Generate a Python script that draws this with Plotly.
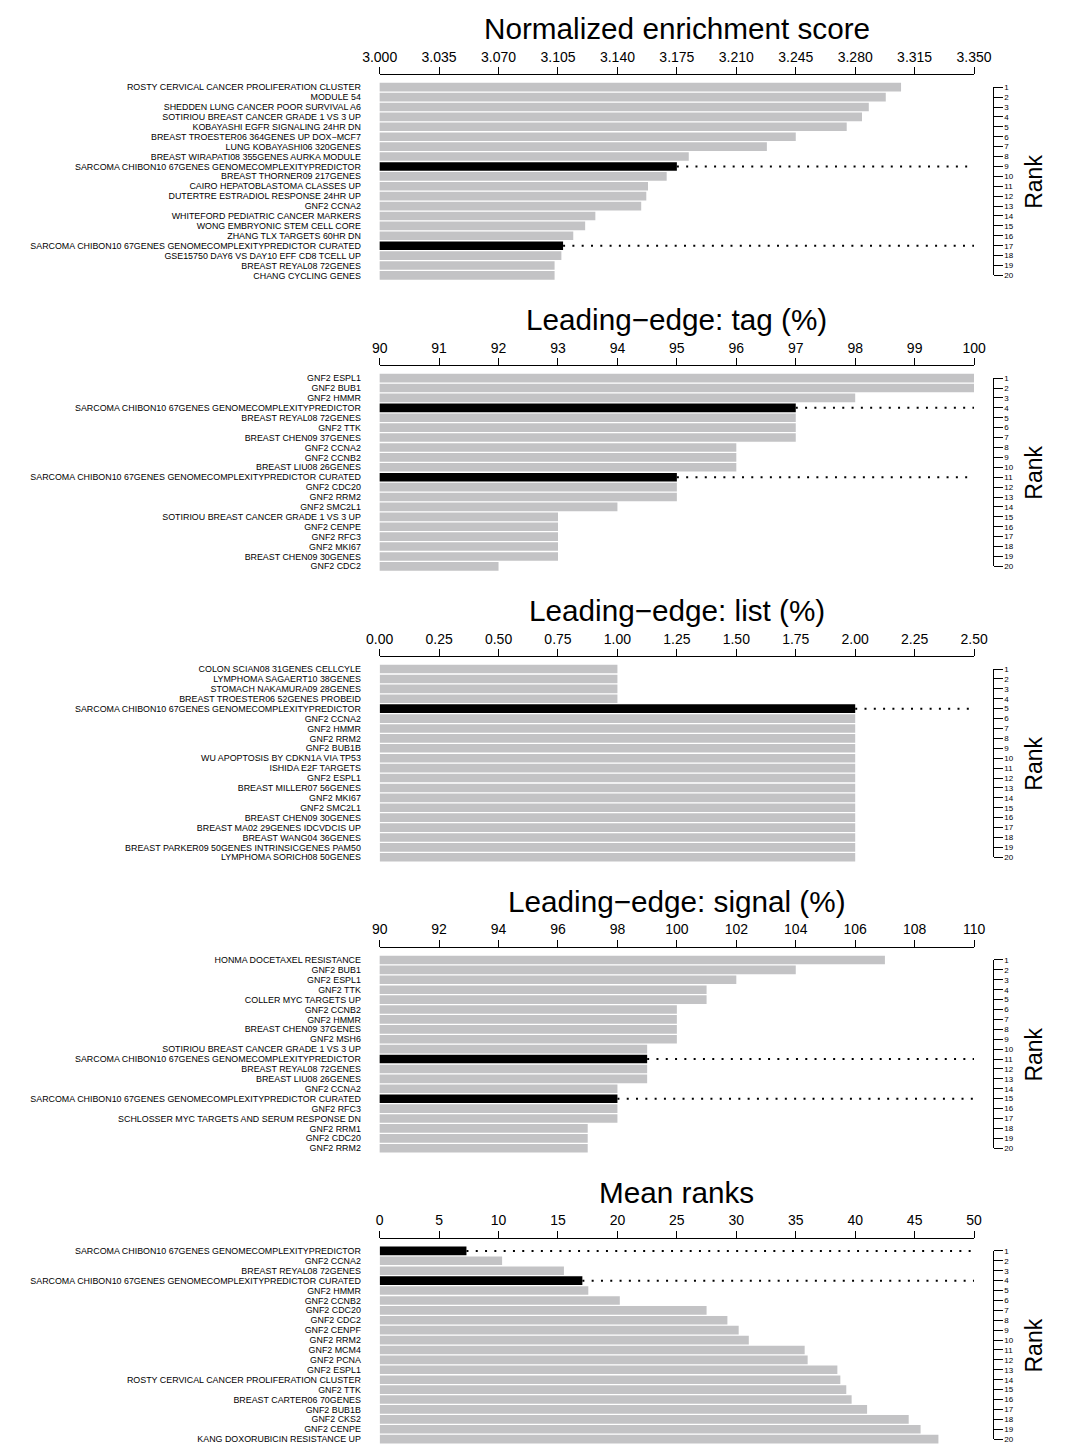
import plotly.graph_objects as go

W, H = 1066, 1449

SARC = "SARCOMA CHIBON10 67GENES GENOMECOMPLEXITYPREDICTOR"
SARC_C = "SARCOMA CHIBON10 67GENES GENOMECOMPLEXITYPREDICTOR CURATED"

ranks = list(range(1, 21))

panel_titles = ["Normalized enrichment score", "Leading\u2212edge: tag (%)",
                "Leading\u2212edge: list (%)", "Leading\u2212edge: signal (%)", "Mean ranks"]

nes_names = ["ROSTY CERVICAL CANCER PROLIFERATION CLUSTER", "MODULE 54",
             "SHEDDEN LUNG CANCER POOR SURVIVAL A6", "SOTIRIOU BREAST CANCER GRADE 1 VS 3 UP",
             "KOBAYASHI EGFR SIGNALING 24HR DN", "BREAST TROESTER06 364GENES UP DOX\u2212MCF7",
             "LUNG KOBAYASHI06 320GENES", "BREAST WIRAPATI08 355GENES AURKA MODULE",
             SARC, "BREAST THORNER09 217GENES", "CAIRO HEPATOBLASTOMA CLASSES UP",
             "DUTERTRE ESTRADIOL RESPONSE 24HR UP", "GNF2 CCNA2",
             "WHITEFORD PEDIATRIC CANCER MARKERS", "WONG EMBRYONIC STEM CELL CORE",
             "ZHANG TLX TARGETS 60HR DN", SARC_C, "GSE15750 DAY6 VS DAY10 EFF CD8 TCELL UP",
             "BREAST REYAL08 72GENES", "CHANG CYCLING GENES"]
nes_values = [3.307, 3.298, 3.288, 3.284, 3.275, 3.245, 3.228, 3.182, 3.175, 3.169,
              3.158, 3.157, 3.154, 3.127, 3.121, 3.114, 3.108, 3.107, 3.103, 3.103]
nes_ticks = ["3.000", "3.035", "3.070", "3.105", "3.140", "3.175", "3.210", "3.245",
             "3.280", "3.315", "3.350"]

tag_names = ["GNF2 ESPL1", "GNF2 BUB1", "GNF2 HMMR", SARC, "BREAST REYAL08 72GENES",
             "GNF2 TTK", "BREAST CHEN09 37GENES", "GNF2 CCNA2", "GNF2 CCNB2",
             "BREAST LIU08 26GENES", SARC_C, "GNF2 CDC20", "GNF2 RRM2", "GNF2 SMC2L1",
             "SOTIRIOU BREAST CANCER GRADE 1 VS 3 UP", "GNF2 CENPE", "GNF2 RFC3",
             "GNF2 MKI67", "BREAST CHEN09 30GENES", "GNF2 CDC2"]
tag_values = [100, 100, 98, 97, 97, 97, 97, 96, 96, 96, 95, 95, 95, 94, 93, 93, 93, 93, 93, 92]
tag_ticks = ["90", "91", "92", "93", "94", "95", "96", "97", "98", "99", "100"]

list_names = ["COLON SCIAN08 31GENES CELLCYLE", "LYMPHOMA SAGAERT10 38GENES",
              "STOMACH NAKAMURA09 28GENES", "BREAST TROESTER06 52GENES PROBEID", SARC,
              "GNF2 CCNA2", "GNF2 HMMR", "GNF2 RRM2", "GNF2 BUB1B",
              "WU APOPTOSIS BY CDKN1A VIA TP53", "ISHIDA E2F TARGETS", "GNF2 ESPL1",
              "BREAST MILLER07 56GENES", "GNF2 MKI67", "GNF2 SMC2L1", "BREAST CHEN09 30GENES",
              "BREAST MA02 29GENES IDCVDCIS UP", "BREAST WANG04 36GENES",
              "BREAST PARKER09 50GENES INTRINSICGENES PAM50", "LYMPHOMA SORICH08 50GENES"]
list_values = [1.0, 1.0, 1.0, 1.0, 2.0, 2.0, 2.0, 2.0, 2.0, 2.0,
               2.0, 2.0, 2.0, 2.0, 2.0, 2.0, 2.0, 2.0, 2.0, 2.0]
list_ticks = ["0.00", "0.25", "0.50", "0.75", "1.00", "1.25", "1.50", "1.75", "2.00",
              "2.25", "2.50"]

signal_names = ["HONMA DOCETAXEL RESISTANCE", "GNF2 BUB1", "GNF2 ESPL1", "GNF2 TTK",
                "COLLER MYC TARGETS UP", "GNF2 CCNB2", "GNF2 HMMR", "BREAST CHEN09 37GENES",
                "GNF2 MSH6", "SOTIRIOU BREAST CANCER GRADE 1 VS 3 UP", SARC,
                "BREAST REYAL08 72GENES", "BREAST LIU08 26GENES", "GNF2 CCNA2", SARC_C,
                "GNF2 RFC3", "SCHLOSSER MYC TARGETS AND SERUM RESPONSE DN", "GNF2 RRM1",
                "GNF2 CDC20", "GNF2 RRM2"]
signal_values = [107, 104, 102, 101, 101, 100, 100, 100, 100, 99,
                 99, 99, 99, 98, 98, 98, 98, 97, 97, 97]
signal_ticks = ["90", "92", "94", "96", "98", "100", "102", "104", "106", "108", "110"]

mean_names = [SARC, "GNF2 CCNA2", "BREAST REYAL08 72GENES", SARC_C, "GNF2 HMMR",
              "GNF2 CCNB2", "GNF2 CDC20", "GNF2 CDC2", "GNF2 CENPF", "GNF2 RRM2",
              "GNF2 MCM4", "GNF2 PCNA", "GNF2 ESPL1", "ROSTY CERVICAL CANCER PROLIFERATION CLUSTER",
              "GNF2 TTK", "BREAST CARTER06 70GENES", "GNF2 BUB1B", "GNF2 CKS2", "GNF2 CENPE",
              "KANG DOXORUBICIN RESISTANCE UP"]
mean_values = [7.3, 10.3, 15.5, 17.05, 17.55, 20.2, 27.5, 29.25, 30.2, 31.05,
               35.75, 36.0, 38.5, 38.75, 39.25, 39.7, 41.0, 44.5, 45.5, 47.0]
mean_ticks = ["0", "5", "10", "15", "20", "25", "30", "35", "40", "45", "50"]

panels = [
    (nes_names, nes_values, nes_ticks),
    (tag_names, tag_values, tag_ticks),
    (list_names, list_values, list_ticks),
    (signal_names, signal_values, signal_ticks),
    (mean_names, mean_values, mean_ticks),
]

# ---- layout / style constants ----
FONT = "Liberation Sans, Arial, Helvetica, sans-serif"
GREY = "#c3c3c5"
X0, X1 = 374.3, 989.5
AXIS_Y = [71.7 + 292.75 * i for i in range(5)]
ROW0 = 12.0
ROW_H = 9.97
RANK_X = 1009.3

fig = go.Figure()
layout = dict(
    width=W, height=H, autosize=False,
    margin=dict(l=0, r=0, t=0, b=0),
    paper_bgcolor="white", plot_bgcolor="rgba(0,0,0,0)",
    showlegend=False, font=dict(family=FONT, color="black"),
    annotations=[],
)


def py(px):
    return min(1.0, max(0.0, 1 - px / H))


for i, (names, values, ticks) in enumerate(panels):
    xa = "x" if i == 0 else f"x{i+1}"
    ya = "y" if i == 0 else f"y{i+1}"
    yr = f"y{i+6}"
    tickvals = [float(t) for t in ticks]
    lo, hi = tickvals[0], tickvals[-1]
    colors = ["black" if n.startswith("SARCOMA CHIBON10") else GREY for n in names]

    fig.add_trace(go.Bar(x=values, y=ranks, orientation="h", width=0.87,
                         marker=dict(color=colors, line=dict(width=0)),
                         xaxis=xa, yaxis=ya, hoverinfo="skip"))
    for n, v, r in zip(names, values, ranks):
        if n.startswith("SARCOMA CHIBON10"):
            fig.add_trace(go.Scatter(x=[v, hi], y=[r, r], mode="lines",
                                     line=dict(color="black", width=2, dash="2px,7.3px"),
                                     xaxis=xa, yaxis=ya, hoverinfo="skip"))
    fig.add_trace(go.Scatter(x=[lo] * len(ranks), y=ranks, mode="markers",
                             marker=dict(opacity=0), xaxis=xa, yaxis=yr, hoverinfo="skip"))

    top = AXIS_Y[i]
    r_top = 1 - ROW0 / ROW_H
    bottom_px = min(top + (20.7 - r_top) * ROW_H, H)
    r_bot = r_top + (bottom_px - top) / ROW_H
    rank1 = top + ROW0
    rank20 = rank1 + 19 * ROW_H

    layout["xaxis" if i == 0 else f"xaxis{i+1}"] = dict(
        domain=[X0 / W, X1 / W], anchor=ya, side="top", range=[lo, hi],
        tickvals=tickvals, ticktext=ticks, ticks="outside", ticklen=7, tickwidth=1,
        tickcolor="black", showline=True, linecolor="black", linewidth=1,
        showgrid=False, zeroline=False, tickfont=dict(size=14, family=FONT),
    )
    layout["yaxis" if i == 0 else f"yaxis{i+1}"] = dict(
        domain=[py(bottom_px), py(top)], anchor=xa, range=[r_bot, r_top],
        tickvals=ranks, ticktext=names, ticks="outside", ticklen=16,
        tickcolor="rgba(0,0,0,0)", showline=False, showgrid=False, zeroline=False,
        tickfont=dict(size=8.9, family=FONT),
    )
    layout[f"yaxis{i+6}"] = dict(
        domain=[py(rank20), py(rank1)], anchor="free", position=RANK_X / W,
        side="right", range=[20, 1], tickvals=ranks, ticks="outside", ticklen=8.5,
        tickwidth=1, tickcolor="black", showline=True, linecolor="black", linewidth=1,
        showgrid=False, zeroline=False, tickfont=dict(size=8, family=FONT),
    )
    layout["annotations"].append(dict(
        text=panel_titles[i], xref="paper", yref="paper", x=(X0 + X1) / 2 / W,
        y=py(top - 47), xanchor="center", yanchor="middle", showarrow=False,
        font=dict(size=29.7, family=FONT, color="black"),
    ))
    layout["annotations"].append(dict(
        text="Rank", xref="paper", yref="paper", x=1052 / W,
        y=py((rank1 + rank20) / 2), xanchor="center", yanchor="middle", showarrow=False,
        textangle=-90, font=dict(size=23, family=FONT, color="black"),
    ))

fig.update_layout(**layout)
fig.write_html("out.html", config={"responsive": False, "displayModeBar": False},
               post_script="document.body.style.margin='0';"
                           "document.body.style.overflow='hidden';")
